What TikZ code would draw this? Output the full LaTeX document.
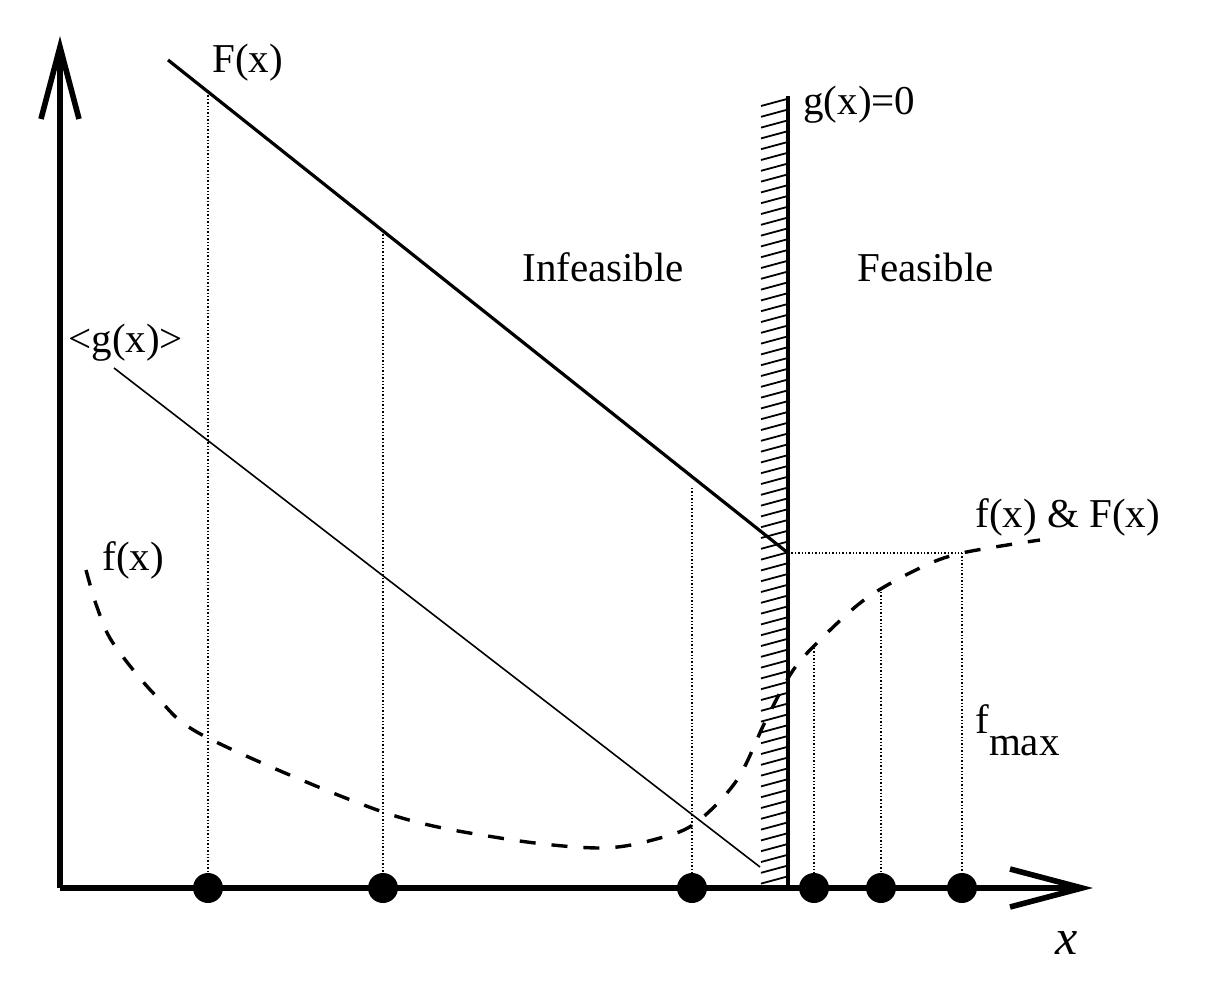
\documentclass[tikz,border=0pt]{standalone}
\usepackage{fontspec}
\setmainfont{Liberation Serif}
\usetikzlibrary{arrows.meta}
\begin{document}
\begin{tikzpicture}[x=0.5pt,y=-0.5pt,
  lbl/.style={font=\fontsize{20.5}{24}\selectfont, inner sep=0pt, anchor=base west},
  axis/.style={line width=2.6pt, -{Straight Barb[length=36pt,width=19pt,line width=2.8pt]}},
  guide/.style={densely dotted, line width=0.7pt},
  pt/.style={circle, fill=black, inner sep=0pt, minimum size=15pt},
  fline/.style={line width=1.6pt},
  gline/.style={line width=0.8pt},
  curve/.style={line width=1.7pt, dash pattern=on 8pt off 8pt},
  barrier/.style={line width=2pt},
  hatch/.style={line width=0.9pt}
]
\useasboundingbox (0,0) rectangle (1209,988);

% origin and axis ends
\coordinate (O) at (60,888);
\coordinate (ytip) at (60,36);
\coordinate (xtip) at (1093,888);

% hatch for constraint boundary
\begin{scope}
  \clip (759,96) rectangle (788,889);
  \foreach \yy in {99,109.8,...,900} \draw[hatch] (761,\yy+7) -- (787,\yy);
\end{scope}

% lines
\coordinate (Fs) at (168,60);
\coordinate (Fe) at (788,553);
\draw[fline] (Fs) -- (Fe);
\coordinate (gs) at (114,368);
\coordinate (ge) at (760,867);
\draw[gline] (gs) -- (ge);

% f(x) curve
\draw[curve] plot[smooth, tension=0.55] coordinates {(86,570) (97,607) (113,643) (157,697) (208,738) (383,812) (500,838) (600,848) (660,838) (697,822) (737,780) (765,722) (790,675) (812,648) (864,600) (920,568) (962,553) (1040,540)};

% dots on x axis
\node[pt] (p1) at (208,888) {};
\node[pt] (p2) at (383,888) {};
\node[pt] (p3) at (692,888) {};
\node[pt] (p4) at (814,888) {};
\node[pt] (p5) at (881,888) {};
\node[pt] (p6) at (962,888) {};

% guides
\coordinate (t1) at (208,92);
\coordinate (t2) at (383,231);
\coordinate (t3) at (692,488);
\coordinate (t4) at (814,648);
\coordinate (t5) at (881,592);
\coordinate (t6) at (962,553);
\draw[guide] (t1) -- (p1.center);
\draw[guide] (t2) -- (p2.center);
\draw[guide] (t3) -- (p3.center);
\draw[guide] (t4) -- (p4.center);
\draw[guide] (t5) -- (p5.center);
\draw[guide] (t6) -- (p6.center);
\draw[guide] (Fe) -- (t6);

% barrier line
\coordinate (bt) at (788,96);
\coordinate (bb) at (788,888);
\draw[barrier] (bt) -- (bb);

% axes
\draw[axis] (O) -- (ytip);
\draw[axis] (O) -- (xtip);

% labels
\node[lbl] (lF) at (212,73) {F(x)};
\node[lbl] (lg0) at (803,115) {g(x)=0};
\node[lbl] (linf) at (522,282) {Infeasible};
\node[lbl] (lfeas) at (857,282) {Feasible};
\node[lbl] (lg) at (68,353) {<g(x)>};
\node[lbl] (lf) at (102,570) {f(x)};
\node[lbl] (lfF) at (975,527) {f(x) \& F(x)};
\node[lbl] (lfmax) at (975,733) {f\raisebox{-11pt}{max}};
\node[font=\fontsize{25}{28}\selectfont\itshape, inner sep=0pt] (lx) at (1067,943) {x};
\end{tikzpicture}
\end{document}
